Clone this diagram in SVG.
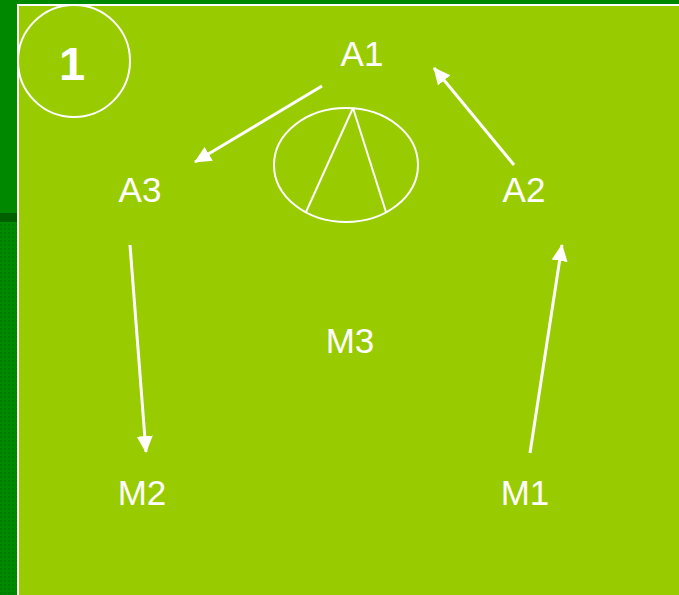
<svg xmlns="http://www.w3.org/2000/svg" width="679" height="595" viewBox="0 0 679 595">
<style>
.lbl{font-family:"Liberation Sans",Arial,sans-serif;font-size:35px;fill:#fff;text-anchor:middle}
.edge{stroke:#fff;stroke-width:3;fill:none}
</style>
<defs>
<marker id="ah" markerUnits="userSpaceOnUse" markerWidth="18" markerHeight="18" viewBox="0 0 18 18" refX="16" refY="9" orient="auto">
<path d="M0,1 L17,9 L0,17 Z" fill="#fff"/>
</marker>
<pattern id="tex" width="4" height="4" patternUnits="userSpaceOnUse">
<rect width="4" height="4" fill="#008a00"/>
<rect width="2" height="2" fill="#007a00"/>
</pattern>
</defs>
<rect x="0" y="0" width="679" height="595" fill="#008800"/>
<rect x="0" y="213" width="18" height="9" fill="#006000"/>
<rect x="0" y="222" width="18" height="373" fill="url(#tex)"/>
<rect x="18" y="5" width="662" height="592" fill="#99cc00" stroke="#fff" stroke-width="2"/>
<g id="badge">
<circle cx="74" cy="61" r="56" fill="none" stroke="#fff" stroke-width="2"/>
<text x="72" y="80" font-family="Liberation Sans,Arial,sans-serif" font-size="47" font-weight="bold" fill="#fff" text-anchor="middle">1</text>
</g>
<g id="A1"><text class="lbl" x="362" y="66">A1</text></g>
<g id="A2"><text class="lbl" x="524" y="202">A2</text></g>
<g id="A3"><text class="lbl" x="140" y="202">A3</text></g>
<g id="M3"><text class="lbl" x="350" y="353">M3</text></g>
<g id="M2"><text class="lbl" x="142" y="505">M2</text></g>
<g id="M1"><text class="lbl" x="525" y="505">M1</text></g>
<g id="triangle-symbol" stroke="#fff" stroke-width="2" fill="none">
<ellipse cx="346" cy="165" rx="72" ry="57"/>
<line x1="353" y1="108" x2="306" y2="212"/>
<line x1="353" y1="108" x2="386" y2="212"/>
</g>
<g id="connectors">
<line class="edge" x1="322" y1="86" x2="195" y2="162" marker-end="url(#ah)"/>
<line class="edge" x1="514" y1="165" x2="434" y2="68" marker-end="url(#ah)"/>
<line class="edge" x1="530" y1="453" x2="562" y2="245" marker-end="url(#ah)"/>
<line class="edge" x1="130" y1="245" x2="146" y2="452" marker-end="url(#ah)"/>
</g>
</svg>
